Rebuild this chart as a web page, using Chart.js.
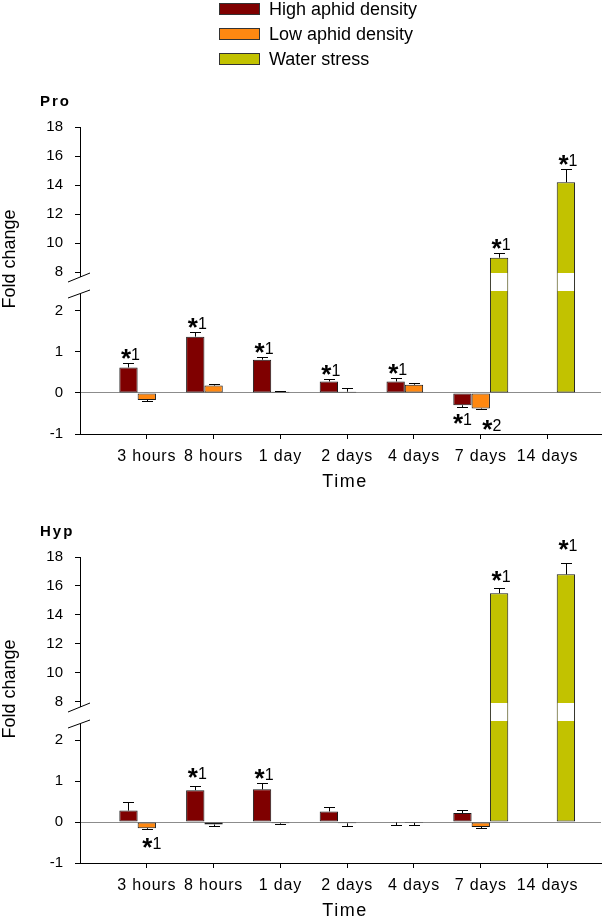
<!DOCTYPE html>
<html><head><meta charset="utf-8">
<script src="https://cdn.jsdelivr.net/npm/chart.js@4.4.1/dist/chart.umd.min.js"></script>
<style>
html,body{margin:0;padding:0;background:#fff;}
#w{position:relative;width:615px;height:917px;overflow:hidden;}
.c{position:absolute;left:0;width:615px;}
</style></head><body>
<div id="w">
<div class="c" style="top:0;height:495px"><canvas id="c1"></canvas></div>
<div class="c" style="top:495px;height:422px"><canvas id="c2"></canvas></div>
</div>
<script>
// ---------- data ----------
const categories = ['3 hours','8 hours','1 day','2 days','4 days','7 days','14 days'];
const seriesNames = ['High aphid density','Low aphid density','Water stress'];
const yTickValues = [-1,0,1,2,8,10,12,14,16,18];

// Pro
const proHigh     = [0.62, 1.37, 0.81, 0.28, 0.28, -0.30, null];
const proHighErr  = [0.12, 0.11, 0.07, 0.07, 0.09, 0.04, null];
const proLow      = [-0.17, 0.18, 0.03, 0.03, 0.20, -0.38, null];
const proLowErr   = [0.03, 0.04, 0.01, 0.09, 0.05, 0.02, null];
const proWater    = [null, null, null, null, null, 9.0, 14.2];
const proWaterErr = [null, null, null, null, null, 0.3, 0.9];
const proMarks = [[0,0,'1'],[0,1,'1'],[0,2,'1'],[0,3,'1'],[0,4,'1'],[0,5,'1'],[1,5,'2'],[2,5,'1'],[2,6,'1']];

// Hyp
const hypHigh     = [0.28, 0.78, 0.80, 0.26, -0.01, 0.22, null];
const hypHighErr  = [0.22, 0.09, 0.16, 0.11, 0.07, 0.07, null];
const hypLow      = [-0.15, -0.06, -0.03, -0.03, -0.02, -0.12, null];
const hypLowErr   = [0.01, 0.04, 0.02, 0.07, 0.04, 0.03, null];
const hypWater    = [null, null, null, null, null, 15.5, 16.8];
const hypWaterErr = [null, null, null, null, null, 0.35, 0.8];
const hypMarks = [[1,0,'1'],[0,1,'1'],[0,2,'1'],[2,5,'1'],[2,6,'1']];

// ---------- style / layout ----------
const FONT = "'Liberation Sans', Arial, sans-serif";
Chart.defaults.font.family = FONT;
Chart.defaults.color = '#000';
const colors = ['#7f0000','#ff8811','#c2c200'];
const BREAK_LO = 2, BREAK_HI = 8, GAP = 0.94, K = 14.5/41;
function toAxis(v){ return v <= BREAK_LO ? v : BREAK_LO + GAP + (v - BREAK_HI) * K; }

const proNudge = {'1,5':{dx:11,dy:3}, '0,5':{dx:0,dy:0}};
const hypNudge = {'1,0':{dx:5,dy:2}, '0,1':{dx:2,dy:-4}, '2,5':{dx:2,dy:-3}, '2,6':{dx:2,dy:-9}};

function line(ctx,x1,y1,x2,y2){ ctx.beginPath(); ctx.moveTo(x1,y1); ctx.lineTo(x2,y2); ctx.stroke(); }

const overlay = {
  id:'panel',
  afterDatasetsDraw(chart){
    const p = chart.options.plugins.panel;
    const ctx = chart.ctx, ys = chart.scales.y, area = chart.chartArea;
    const y8 = Math.round(ys.getPixelForValue(toAxis(BREAK_HI)));
    ctx.save();
    ctx.lineWidth = 1; ctx.strokeStyle = '#000';
    const centers = {};
    chart.data.datasets.forEach((ds, di) => {
      const meta = chart.getDatasetMeta(di);
      meta.data.forEach((bar, j) => {
        const ci = ds.data[j].x;
        const v = p.values[di][ci], e = p.errs[di][ci];
        const s = v < 0 ? -1 : 1;
        let tipPx = ys.getPixelForValue(toAxis(v));
        if (v > BREAK_HI) {
          const w = bar.width;
          ctx.fillStyle = '#fff';
          ctx.fillRect(bar.x - w/2 + 1, y8 + 1, w - 2, 18);
        }
        if (e) {
          const top = ys.getPixelForValue(toAxis(v));
          tipPx = ys.getPixelForValue(toAxis(v + s*e));
          const x = Math.round(bar.x) + 0.5;
          line(ctx, x, top, x, Math.round(tipPx)+0.5);
          line(ctx, x - 5.5, Math.round(tipPx)+0.5, x + 5.5, Math.round(tipPx)+0.5);
        }
        centers[di+','+ci] = {x: bar.x, tip: tipPx, s};
      });
    });
    // axis break
    ctx.fillStyle = '#fff';
    ctx.fillRect(area.left - 3, y8 + 5, 6, 17);
    ctx.strokeStyle = '#000';
    line(ctx, area.left - 12, y8 + 10, area.left + 10, y8 + 1);
    line(ctx, area.left - 12, y8 + 26, area.left + 10, y8 + 18);
    // significance marks
    ctx.fillStyle = '#000';
    ctx.textBaseline = 'alphabetic';
    p.marks.forEach(([si, ci, d]) => {
      const c = centers[si+','+ci]; if (!c) return;
      const n = p.nudge[si+','+ci] || {dx:2, dy:0};
      ctx.font = 'bold 26px ' + FONT;
      const sw = ctx.measureText('*').width;
      ctx.font = '16px ' + FONT;
      const dw = ctx.measureText(d).width;
      const left = c.x + n.dx - (sw + dw)/2;
      const base = (c.s > 0 ? c.tip - 3 : c.tip + 18.5) + n.dy;
      ctx.font = 'bold 26px ' + FONT;
      ctx.fillText('*', left, base + 7);
      ctx.font = '16px ' + FONT;
      ctx.fillText(d, left + sw, base);
    });
    ctx.restore();
    ctx.letterSpacing = '0.8px';
  },
  afterDraw(chart){
    const p = chart.options.plugins.panel;
    const ctx = chart.ctx, area = chart.chartArea;
    ctx.save();
    ctx.fillStyle = '#000';
    // panel title
    ctx.letterSpacing = '2px';
    ctx.font = 'bold 15px ' + FONT;
    ctx.textAlign = 'left'; ctx.textBaseline = 'middle';
    ctx.fillText(p.title, 40, area.top - 25);
    // x title
    ctx.letterSpacing = '1.5px';
    ctx.font = '18px ' + FONT;
    ctx.textAlign = 'center';
    ctx.fillText('Time', area.left + 265, area.bottom + 48);
    // y title
    ctx.letterSpacing = '0px';
    ctx.save();
    ctx.translate(10, area.top + 132);
    ctx.rotate(-Math.PI/2);
    ctx.fillText('Fold change', 0, 0);
    ctx.restore();
    // legend
    if (p.legend) {
      ctx.textAlign = 'left';
      seriesNames.forEach((n, i) => {
        const cy = 9 + i*25;
        ctx.fillStyle = colors[i];
        ctx.fillRect(219, cy - 6, 41, 12);
        ctx.strokeStyle = '#333'; ctx.lineWidth = 1;
        ctx.strokeRect(219.5, cy - 5.5, 40, 11);
        ctx.fillStyle = '#000';
        ctx.font = '18px ' + FONT;
        ctx.fillText(n, 269, cy + 1);
      });
    }
    ctx.restore();
    ctx.letterSpacing = '0px';
  }
};

function buildChart(id, p){
  const datasets = seriesNames.map((name, si) => ({
    label: name,
    data: p.values[si].map((v, i) => v == null ? null : {x: i, y: toAxis(v)}).filter(d => d),
    backgroundColor: colors[si],
    borderColor: '#1a1a1a',
    borderWidth: 1,
    borderSkipped: false,
    categoryPercentage: 0.823,
    barPercentage: 1.0
  }));
  return new Chart(document.getElementById(id), {
    type: 'bar',
    data: {datasets},
    options: {
      responsive: true, maintainAspectRatio: false, animation: false,
      layout: {padding: {top: p.top, right: 14, left: 0, bottom: 0}},
      plugins: {legend: {display: false}, tooltip: {enabled: false}, panel: p},
      scales: {
        x: {
          type: 'linear', min: -1, max: 6.8, offset: false,
          grid: {display: true, drawOnChartArea: false, drawTicks: true, tickLength: 5, tickColor: '#000', offset: false},
          border: {display: true, color: '#000', width: 1},
          afterBuildTicks: s => { s.ticks = categories.map((_, i) => ({value: i})); },
          ticks: {autoSkip: false, maxRotation: 0, minRotation: 0, padding: 8, z: 1, font: {size: 16}, color: '#000',
                  callback: v => categories[v] ?? ''},
          afterFit: s => { s.height = p.xHeight; }
        },
        y: {
          type: 'linear', min: -1, max: toAxis(18),
          grid: {drawOnChartArea: true, drawTicks: true, tickLength: 5, tickColor: '#000', lineWidth: 1,
                 color: c => (c.tick && c.tick.value === 0) ? '#8c8c8c' : 'rgba(0,0,0,0)'},
          border: {display: true, color: '#000', width: 1},
          afterBuildTicks: s => { s.ticks = yTickValues.map(v => ({value: toAxis(v)})); },
          ticks: {padding: 12, font: {size: 15}, color: '#000',
                  callback: val => { const t = yTickValues.find(v => Math.abs(toAxis(v) - val) < 1e-6); return t === undefined ? '' : String(t); }},
          afterFit: s => { s.width = 80; }
        }
      }
    },
    plugins: [overlay]
  });
}

buildChart('c1', {title: 'Pro', legend: true, top: 127, xHeight: 61,
  values: [proHigh, proLow, proWater], errs: [proHighErr, proLowErr, proWaterErr],
  marks: proMarks, nudge: proNudge});
buildChart('c2', {title: 'Hyp', legend: false, top: 62, xHeight: 54,
  values: [hypHigh, hypLow, hypWater], errs: [hypHighErr, hypLowErr, hypWaterErr],
  marks: hypMarks, nudge: hypNudge});
</script>
</body></html>
